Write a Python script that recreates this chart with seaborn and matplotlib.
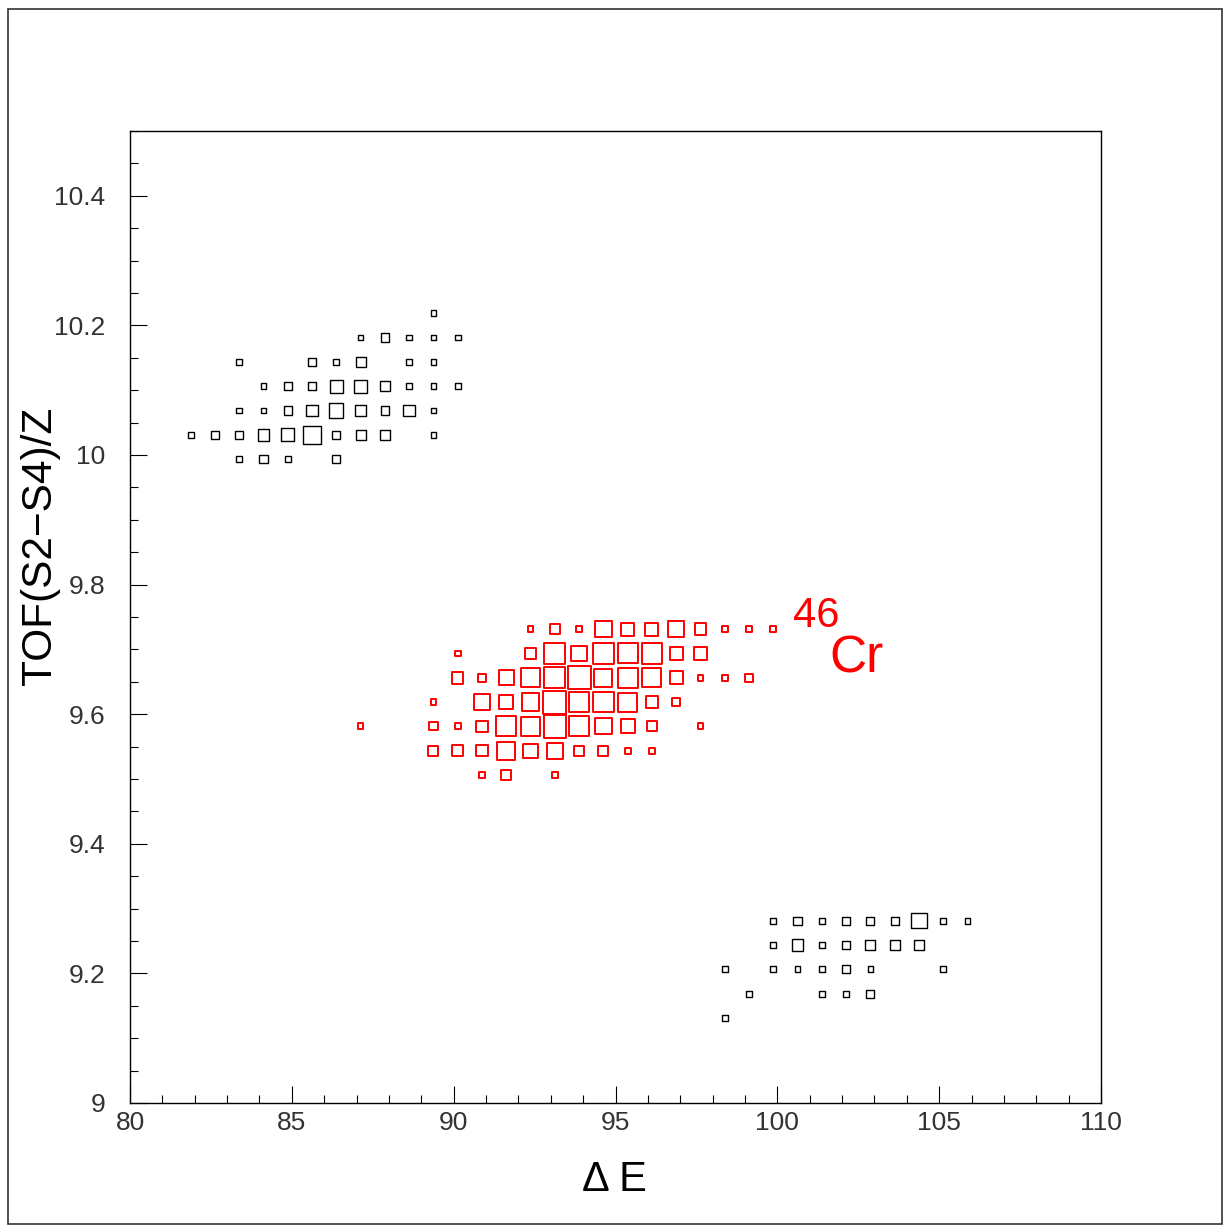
import numpy as np
import pandas as pd
import matplotlib
matplotlib.use("Agg")
import matplotlib.pyplot as plt
from matplotlib.ticker import MultipleLocator, FormatStrFormatter
from matplotlib.patches import Rectangle
import seaborn as sns

# Histogram binning: 40 x 40 cells over the plotted window
DE_RANGE = (80.0, 110.0)
TOF_RANGE = (9.0, 10.5)
N_BINS = 40
DE_BIN = (DE_RANGE[1] - DE_RANGE[0]) / N_BINS
TOF_BIN = (TOF_RANGE[1] - TOF_RANGE[0]) / N_BINS

# Cell counts, one list per TOF bin (top row first); columns start at the given ΔE bin
upper_first_de_bin = 2
upper_top_tof_bin = 32
upper_counts = [
    [0, 0, 0, 0, 0, 0, 0, 0, 0, 0, 1, 0],
    [0, 0, 0, 0, 0, 0, 0, 1, 2, 1, 1, 1],
    [0, 0, 1, 0, 0, 2, 1, 3, 0, 1, 1, 0],
    [0, 0, 0, 1, 2, 2, 5, 5, 3, 1, 1, 1],
    [0, 0, 1, 1, 2, 4, 6, 4, 2, 4, 1, 0],
    [1, 2, 2, 4, 5, 10, 2, 3, 3, 0, 1, 0],
    [0, 0, 1, 2, 1, 0, 2, 0, 0, 0, 0, 0],
]

cr46_first_de_bin = 9
cr46_top_tof_bin = 19
cr46_counts = [
    [0, 0, 0, 0, 0, 0, 0, 1, 3, 1, 8, 5, 5, 8, 4, 1, 1, 1],
    [0, 0, 0, 0, 1, 0, 0, 4, 13, 7, 13, 12, 13, 5, 5, 0, 0, 0],
    [0, 0, 0, 0, 4, 2, 7, 11, 13, 16, 10, 12, 11, 5, 1, 1, 2, 0],
    [0, 0, 0, 1, 0, 8, 6, 9, 16, 13, 13, 11, 4, 2, 0, 0, 0, 0],
    [1, 0, 0, 2, 1, 4, 12, 11, 15, 12, 8, 6, 3, 0, 1, 0, 0, 0],
    [0, 0, 0, 3, 4, 4, 10, 6, 8, 3, 3, 1, 1, 0, 0, 0, 0, 0],
    [0, 0, 0, 0, 0, 1, 3, 0, 1, 0, 0, 0, 0, 0, 0, 0, 0, 0],
]

lower_first_de_bin = 24
lower_top_tof_bin = 7
lower_counts = [
    [0, 0, 1, 2, 1, 2, 2, 2, 7, 1, 1],
    [0, 0, 1, 4, 1, 2, 3, 3, 3, 0, 0],
    [1, 0, 1, 1, 1, 2, 1, 0, 0, 1, 0],
    [0, 1, 0, 0, 1, 1, 2, 0, 0, 0, 0],
    [1, 0, 0, 0, 0, 0, 0, 0, 0, 0, 0],
]

X_TICKS = [80, 85, 90, 95, 100, 105, 110]
Y_TICKS = [9.0, 9.2, 9.4, 9.6, 9.8, 10.0, 10.2, 10.4]
MAX_COUNT = 16


def cells(counts, first_de_bin, top_tof_bin):
    rows = []
    for r, row in enumerate(counts):
        j = top_tof_bin - r
        for c, n in enumerate(row):
            if n > 0:
                i = first_de_bin + c
                rows.append({
                    "dE": DE_RANGE[0] + DE_BIN * (i + 0.5),
                    "tof": TOF_RANGE[0] + TOF_BIN * (j + 0.5),
                    "n": n,
                })
    return pd.DataFrame(rows)


black = pd.concat([cells(upper_counts, upper_first_de_bin, upper_top_tof_bin),
                   cells(lower_counts, lower_first_de_bin, lower_top_tof_bin)],
                  ignore_index=True)
red = cells(cr46_counts, cr46_first_de_bin, cr46_top_tof_bin)

sns.set_theme(style="white")
plt.rcParams["font.family"] = ["Liberation Sans", "DejaVu Sans"]
plt.rcParams["text.color"] = "black"

W, H, DPI = 1229, 1225, 100
fig = plt.figure(figsize=(W / DPI, H / DPI), dpi=DPI)
ax = fig.add_axes([130 / W, 1 - 1103 / H, 971 / W, 972 / H])

# box side grows with sqrt(count): marker area proportional to count
box_area = (0, 275)
sns.scatterplot(data=black, x="dE", y="tof", size="n", sizes=box_area,
                size_norm=(0, MAX_COUNT), marker="s", color="black",
                facecolor="none", edgecolor="black", linewidth=1.0,
                legend=False, ax=ax)
sns.scatterplot(data=red, x="dE", y="tof", size="n", sizes=box_area,
                size_norm=(0, MAX_COUNT), marker="s", color="red",
                facecolor="none", edgecolor="#ff0000", linewidth=1.4,
                legend=False, ax=ax)

ax.set_xlim(*DE_RANGE)
ax.set_ylim(*TOF_RANGE)
ax.set_xticks(X_TICKS)
ax.set_yticks(Y_TICKS)
ax.xaxis.set_minor_locator(MultipleLocator(1))
ax.yaxis.set_minor_locator(MultipleLocator(0.05))
ax.yaxis.set_major_formatter(FormatStrFormatter("%g"))
ax.xaxis.set_major_formatter(FormatStrFormatter("%g"))
ax.tick_params(which="both", direction="in", left=True, bottom=True,
               top=False, right=False, color="black", width=0.8)
ax.tick_params(which="major", length=12.5)
ax.tick_params(which="minor", length=6)
ax.tick_params(axis="x", which="major", labelsize=19, pad=6, labelcolor="#333333")
ax.tick_params(axis="y", which="major", labelsize=19, pad=18, labelcolor="#333333")
for sp in ax.spines.values():
    sp.set_visible(True)
    sp.set_color("black")
    sp.set_linewidth(1.0)

ax.set_xlabel("")
ax.set_ylabel("")
fig.text(614 / W, 1 - 1180 / H, "\u0394 E", fontsize=30, ha="center", va="center",
         color="black")
fig.text(40 / W, 1 - 546 / H, "TOF(S2\u2212S4)/Z", fontsize=30.5, rotation=90,
         ha="center", va="center", color="black")

# isotope label
ax.text(100.48, 9.734, "46", color="#ff0000", fontsize=30, ha="left", va="baseline")
ax.text(101.6, 9.664, "Cr", color="#ff0000", fontsize=37, ha="left", va="baseline")

# canvas border
fig.patches.append(Rectangle((8 / W, 1 - 1224 / H), 1214 / W, 1215 / H,
                             transform=fig.transFigure, fill=False,
                             edgecolor="#333333", linewidth=1.2))

fig.savefig("out.png", dpi=DPI)
